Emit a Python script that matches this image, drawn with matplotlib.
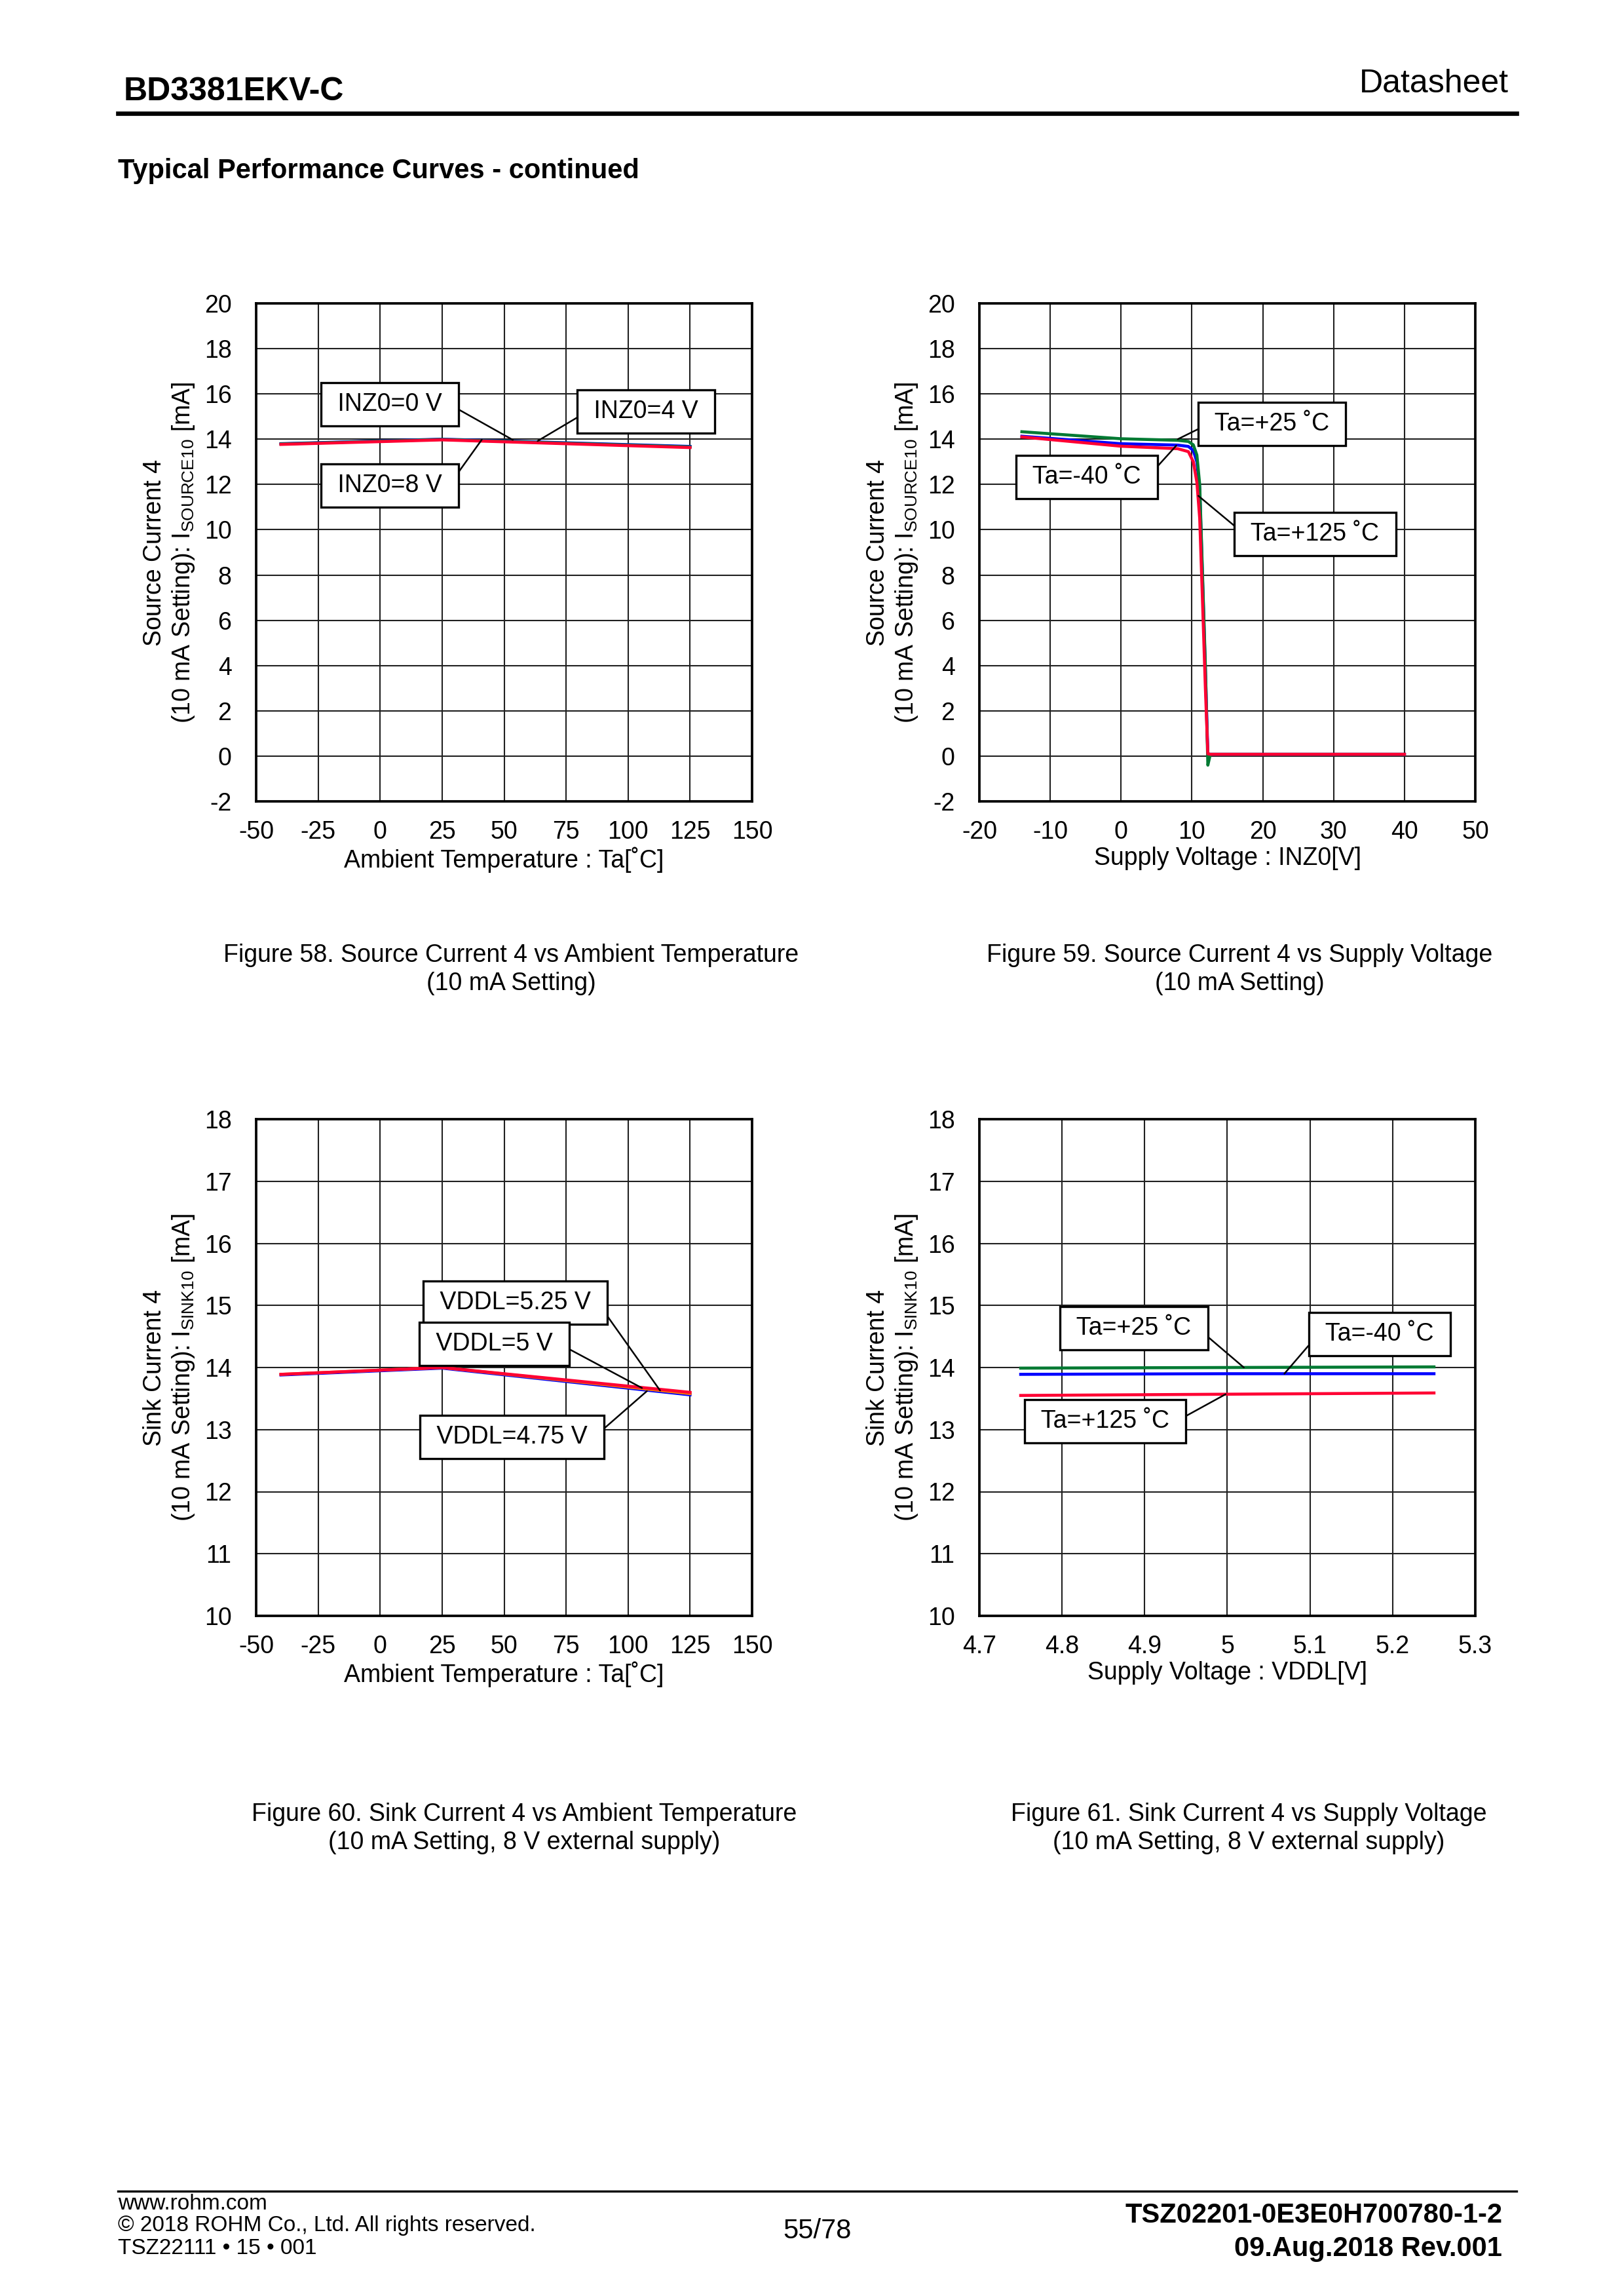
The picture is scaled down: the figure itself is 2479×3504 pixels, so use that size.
import numpy as np
import matplotlib.pyplot as plt

plt.rcParams['font.family'] = ['Liberation Sans', 'DejaVu Sans']
plt.rcParams['mathtext.fontset'] = 'custom'
plt.rcParams['mathtext.rm'] = 'Liberation Sans'
plt.rcParams['mathtext.it'] = 'Liberation Sans:italic'
plt.rcParams['mathtext.bf'] = 'Liberation Sans:bold'
plt.rcParams['axes.unicode_minus'] = False

# ---- data ----
# Fig 58: source current vs ambient temperature
temp = [-40, 25, 125]
src_inz0_0v = [13.80, 14.00, 13.68]
src_inz0_4v = [13.79, 13.99, 13.66]
src_inz0_8v = [13.77, 13.97, 13.63]

# Fig 59: source current vs supply voltage INZ0
inz0_v = [-14, 0, 8, 9.5, 10.2, 10.7, 11.1, 11.5, 11.9, 12.25, 12.6, 20, 30, 40]
src_m40 = [14.13, 13.80, 13.74, 13.68, 13.50, 13.00, 11.8, 7.8, 3.8, 0.1, 0.08, 0.08, 0.08, 0.08]
src_p25 = [14.33, 14.02, 13.95, 13.90, 13.75, 13.30, 12.0, 8.0, 4.0, -0.4, 0.08, 0.08, 0.08, 0.08]
src_p125 = [14.10, 13.69, 13.58, 13.45, 13.00, 12.10, 10.5, 6.8, 3.0, 0.1, 0.08, 0.08, 0.08, 0.08]

# Fig 60: sink current vs ambient temperature
sink_5v25 = [13.89, 14.00, 13.60]
sink_5v = [13.89, 14.00, 13.58]
sink_4v75 = [13.88, 13.99, 13.56]

# Fig 61: sink current vs VDDL
vddl = [4.75, 5.0, 5.25]
sink_m40 = [13.89, 13.90, 13.90]
sink_p25 = [13.99, 14.00, 14.01]
sink_p125 = [13.55, 13.57, 13.59]

BLUE = '#0000ff'
GREEN = '#007a33'
RED = '#ff0033'

W, H = 2479, 3504
fig = plt.figure(figsize=(W / 300, H / 300), dpi=300)

FS = 9


def fx(px):
    return px / W


def fy(py):
    return 1 - py / H


def setup_axes(rect, xlim, xticks, ylim, yticks, xlabel, ylabel):
    ax = fig.add_axes(rect)
    ax.set_xlim(*xlim)
    ax.set_ylim(*ylim)
    ax.set_xticks(xticks)
    ax.set_yticks(yticks)
    ax.grid(True, color='#202020', linewidth=0.5)
    ax.tick_params(length=0, labelsize=FS)
    ax.tick_params(axis='x', pad=7)
    ax.tick_params(axis='y', pad=9)
    for s in ax.spines.values():
        s.set_linewidth(0.9)
    ax.set_xlabel(xlabel, fontsize=FS, labelpad=1)
    ax.set_ylabel(ylabel, fontsize=FS, linespacing=1.2)
    ax.yaxis.set_label_coords(-0.12, 0.5)
    return ax


def label(ax, text, xy, xytext, side):
    rel = (1, 0.5) if side == 'r' else (0, 0.5)
    ax.annotate(' ' + text + ' ', xy=xy, xytext=xytext, fontsize=FS, ha='center', va='center',
                bbox=dict(boxstyle='square,pad=0.4', fc='white', ec='black', lw=0.8),
                arrowprops=dict(arrowstyle='-', color='black', lw=0.6, relpos=rel,
                                shrinkA=0, shrinkB=0))


aw = fx(757)
ah = 760 / H
ylab_src = 'Source Current 4\n(10 mA Setting): I$_{\\mathrm{SOURCE10}}$ [mA]'
ylab_sink = 'Sink Current 4\n(10 mA Setting): I$_{\\mathrm{SINK10}}$ [mA]'

# Figure 58
ax = setup_axes([fx(391), fy(1223), aw, ah], (-50, 150), range(-50, 151, 25),
                (-2, 20), range(-2, 21, 2), 'Ambient Temperature : Ta[˚C]', ylab_src)
ax.plot(temp, src_inz0_0v, color=BLUE, lw=1.1)
ax.plot(temp, src_inz0_4v, color=GREEN, lw=1.1)
ax.plot(temp, src_inz0_8v, color=RED, lw=1.1)
label(ax, 'INZ0=0 V', (53.5, 13.97), (4.0, 15.55), 'r')
label(ax, 'INZ0=4 V', (63.5, 13.92), (107.3, 15.22), 'l')
label(ax, 'INZ0=8 V', (41.0, 13.98), (4.0, 11.96), 'r')

# Figure 59
ax = setup_axes([fx(1495), fy(1223), aw, ah], (-20, 50), range(-20, 51, 10),
                (-2, 20), range(-2, 21, 2), 'Supply Voltage : INZ0[V]', ylab_src)
ax.plot(inz0_v, src_m40, color=BLUE, lw=1.1)
ax.plot(inz0_v, src_p25, color=GREEN, lw=1.1)
ax.plot(inz0_v, src_p125, color=RED, lw=1.1)
label(ax, 'Ta=+25 ˚C', (8.0, 14.0), (21.3, 14.66), 'l')
label(ax, 'Ta=-40 ˚C', (7.8, 13.72), (-4.84, 12.32), 'r')
label(ax, 'Ta=+125 ˚C', (10.9, 11.5), (27.4, 9.81), 'l')

# Figure 60
ax = setup_axes([fx(391), fy(2466), aw, 758 / H], (-50, 150), range(-50, 151, 25),
                (10, 18), range(10, 19, 1), 'Ambient Temperature : Ta[˚C]', ylab_sink)
ax.plot(temp, sink_4v75, color=BLUE, lw=1.1)
ax.plot(temp, sink_5v, color='#ff8000', lw=1.1)
ax.plot(temp, sink_5v25, color=RED, lw=1.1)
label(ax, 'VDDL=5.25 V', (112.9, 13.63), (54.5, 15.05), 'r')
label(ax, 'VDDL=5 V', (105.6, 13.67), (46.0, 14.38), 'r')
label(ax, 'VDDL=4.75 V', (107.6, 13.62), (53.2, 12.88), 'r')

# Figure 61
ax = setup_axes([fx(1495), fy(2466), aw, 758 / H], (4.7, 5.3), np.arange(4.7, 5.31, 0.1),
                (10, 18), range(10, 19, 1), 'Supply Voltage : VDDL[V]', ylab_sink)
ax.set_xticklabels(['4.7', '4.8', '4.9', '5', '5.1', '5.2', '5.3'])
ax.plot(vddl, sink_p25, color=GREEN, lw=1.1)
ax.plot(vddl, sink_m40, color=BLUE, lw=1.1)
ax.plot(vddl, sink_p125, color=RED, lw=1.1)
label(ax, 'Ta=+25 ˚C', (5.02, 14.0), (4.887, 14.63), 'r')
label(ax, 'Ta=-40 ˚C', (5.069, 13.9), (5.184, 14.54), 'l')
label(ax, 'Ta=+125 ˚C', (4.998, 13.57), (4.852, 13.13), 'r')

# page header / captions / footer
fig.text(fx(189), fy(140), 'BD3381EKV-C', fontsize=12, fontweight='bold', va='center')
fig.text(fx(2303), fy(128), 'Datasheet', fontsize=12, ha='right', va='center')
fig.add_artist(plt.Line2D([fx(180), fx(2315)], [fy(173), fy(173)], color='black', lw=1.6))
fig.text(fx(180), fy(261), 'Typical Performance Curves - continued', fontsize=10,
         fontweight='bold', va='center')

caps = [
    (780, 1458, 'Figure 58. Source Current 4 vs Ambient Temperature', '(10 mA Setting)'),
    (1892, 1458, 'Figure 59. Source Current 4 vs Supply Voltage', '(10 mA Setting)'),
    (800, 2769, 'Figure 60. Sink Current 4 vs Ambient Temperature',
     '(10 mA Setting, 8 V external supply)'),
    (1906, 2769, 'Figure 61. Sink Current 4 vs Supply Voltage',
     '(10 mA Setting, 8 V external supply)'),
]
for cx, cy, l1, l2 in caps:
    fig.text(fx(cx), fy(cy), l1, fontsize=FS, ha='center', va='center')
    fig.text(fx(cx), fy(cy + 43), l2, fontsize=FS, ha='center', va='center')

fig.add_artist(plt.Line2D([fx(180), fx(2315)], [fy(3344), fy(3344)], color='black', lw=0.8))
fig.text(fx(180), fy(3363), 'www.rohm.com', fontsize=8, va='center')
fig.text(fx(180), fy(3397), '© 2018 ROHM Co., Ltd. All rights reserved.', fontsize=8, va='center')
fig.text(fx(180), fy(3432), 'TSZ22111 • 15 • 001', fontsize=8, va='center')
fig.text(fx(1247), fy(3405), '55/78', fontsize=10, ha='center', va='center')
fig.text(fx(2293), fy(3381), 'TSZ02201-0E3E0H700780-1-2', fontsize=10, fontweight='bold',
         ha='right', va='center')
fig.text(fx(2293), fy(3432), '09.Aug.2018 Rev.001', fontsize=10, fontweight='bold',
         ha='right', va='center')

fig.savefig('out.png', dpi=300, facecolor='white')
